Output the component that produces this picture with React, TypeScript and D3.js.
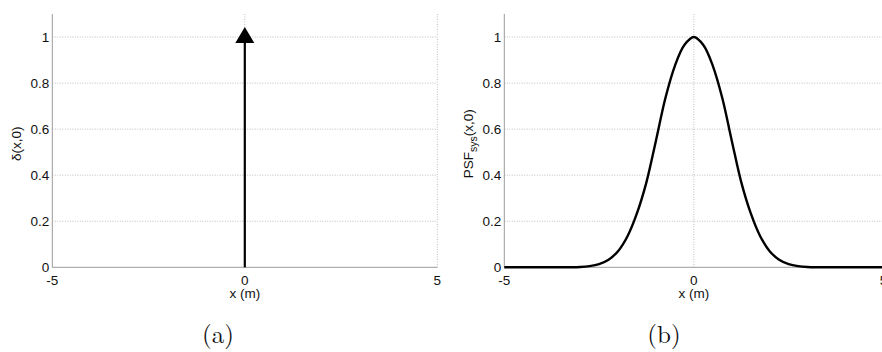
import React from "react";
import * as d3 from "d3";

// Axis ticks shared by both panels
const xTicks = [-5, 0, 5];
const yTicks = [0, 0.2, 0.4, 0.6, 0.8, 1];
const xDomain: [number, number] = [-5, 5];
const yDomain: [number, number] = [0, 1.1];

// Panel (a): ideal point source, an impulse at the origin
const impulseX = [0];
const impulseAmp = [1];

// Panel (b): system point spread function along y = 0
const psfX = [
  -5, -4.5, -4, -3.5, -3.25, -3, -2.75, -2.5, -2.25, -2, -1.75, -1.5, -1.25, -1,
  -0.75, -0.5, -0.25, 0, 0.25, 0.5, 0.75, 1, 1.25, 1.5, 1.75, 2, 2.25, 2.5,
  2.75, 3, 3.25, 3.5, 4, 4.5, 5,
];
const psfY = [
  0, 0, 0, 0, 0, 0.001, 0.005, 0.014, 0.033, 0.07, 0.135, 0.235, 0.37, 0.55,
  0.735, 0.875, 0.965, 1, 0.965, 0.875, 0.735, 0.55, 0.37, 0.235, 0.135, 0.07,
  0.033, 0.014, 0.005, 0.001, 0, 0, 0, 0, 0,
];

const W = 882;
const H = 352;
const TICK_FONT = "'Liberation Sans', Arial, Helvetica, sans-serif";
const CAPTION_FONT = "'Latin Modern Roman', 'Liberation Serif', 'Times New Roman', serif";
const FS = 13.5;
const GRID = "#bdbdbd";
const AXIS = "#9a9a9a";

type Frame = { left: number; right: number; top: number; bottom: number };

function Axes({
  frame,
  yLabel,
  caption,
  captionX,
  children,
}: {
  frame: Frame;
  yLabel: React.ReactNode;
  caption: string;
  captionX: number;
  children: (x: d3.ScaleLinear<number, number>, y: d3.ScaleLinear<number, number>) => React.ReactNode;
}) {
  const x = d3.scaleLinear().domain(xDomain).range([frame.left, frame.right]);
  const y = d3.scaleLinear().domain(yDomain).range([frame.bottom, frame.top]);
  const midY = (frame.top + frame.bottom) / 2;
  return (
    <g>
      {/* dotted grid */}
      {yTicks.filter((t) => t > 0).map((t) => (
        <line
          key={"gy" + t}
          x1={frame.left}
          x2={frame.right}
          y1={y(t)}
          y2={y(t)}
          stroke={GRID}
          strokeWidth={1}
          strokeDasharray="1,1.5"
        />
      ))}
      {xTicks.filter((t) => t > xDomain[0]).map((t) => (
        <line
          key={"gx" + t}
          x1={x(t)}
          x2={x(t)}
          y1={frame.top}
          y2={frame.bottom}
          stroke={GRID}
          strokeWidth={1}
          strokeDasharray="1,1.5"
        />
      ))}
      {/* axis lines */}
      <line x1={frame.left} x2={frame.right} y1={frame.bottom} y2={frame.bottom} stroke={AXIS} strokeWidth={1} />
      <line x1={frame.left} x2={frame.left} y1={frame.top} y2={frame.bottom} stroke={AXIS} strokeWidth={1} />

      {/* tick labels */}
      {yTicks.map((t) => (
        <text
          key={"ty" + t}
          x={frame.left - 3}
          y={y(t)}
          dy="0.35em"
          textAnchor="end"
          fontFamily={TICK_FONT}
          fontSize={FS}
          fill="#111"
        >
          {d3.format("~g")(t)}
        </text>
      ))}
      {xTicks.map((t) => (
        <text
          key={"tx" + t}
          x={x(t)}
          y={frame.bottom + 17.5}
          textAnchor="middle"
          fontFamily={TICK_FONT}
          fontSize={FS}
          fill="#111"
        >
          {t < 0 ? "-" + Math.abs(t) : String(t)}
        </text>
      ))}

      {/* axis titles */}
      <text
        x={(frame.left + frame.right) / 2}
        y={frame.bottom + 31}
        textAnchor="middle"
        fontFamily={TICK_FONT}
        fontSize={FS}
        fill="#111"
      >
        x (m)
      </text>
      <text
        transform={`translate(${frame.left - 31},${midY + 3}) rotate(-90)`}
        textAnchor="middle"
        fontFamily={TICK_FONT}
        fontSize={FS}
        fill="#111"
      >
        {yLabel}
      </text>

      {children(x, y)}

      {/* sub-figure caption */}
      <text
        x={captionX}
        y={343}
        textAnchor="middle"
        fontFamily={CAPTION_FONT}
        fontSize={25}
        fill="#111"
      >
        {caption}
      </text>
    </g>
  );
}

export default function App() {
  const frameA: Frame = { left: 52.3, right: 437.3, top: 14, bottom: 267.3 };
  const frameB: Frame = { left: 504.3, right: 883.4, top: 14, bottom: 267.3 };

  const psfPoints: [number, number][] = psfX.map((v, i) => [v, psfY[i]]);

  return (
    <svg
      width={W}
      height={H}
      viewBox={`0 0 ${W} ${H}`}
      style={{ position: "absolute", left: 0, top: 0, background: "#fff" }}
    >
      <rect x={0} y={0} width={W} height={H} fill="#fff" />
      <Axes frame={frameA} yLabel="δ(x,0)" caption="(a)" captionX={218}>
        {(x, y) =>
          impulseX.map((v, i) => {
            const cx = x(v);
            const cy = y(impulseAmp[i]);
            const tri = d3.path();
            tri.moveTo(cx, cy - 10);
            tri.lineTo(cx + 9.5, cy + 6);
            tri.lineTo(cx - 9.5, cy + 6);
            tri.closePath();
            return (
              <g key={"imp" + i}>
                <line x1={cx} x2={cx} y1={y(0)} y2={cy} stroke="#000" strokeWidth={2.2} />
                <path d={tri.toString()} fill="#000" />
              </g>
            );
          })
        }
      </Axes>
      <Axes
        frame={frameB}
        yLabel={
          <>
            PSF
            <tspan fontSize={10.5} dy={4}>
              sys
            </tspan>
            <tspan dy={-4}>(x,0)</tspan>
          </>
        }
        caption="(b)"
        captionX={664}
      >
        {(x, y) => {
          const line = d3
            .line<[number, number]>()
            .x((d) => x(d[0]))
            .y((d) => y(d[1]))
            .curve(d3.curveCatmullRom.alpha(0.5));
          return <path d={line(psfPoints) || ""} fill="none" stroke="#000" strokeWidth={2.4} />;
        }}
      </Axes>
    </svg>
  );
}
